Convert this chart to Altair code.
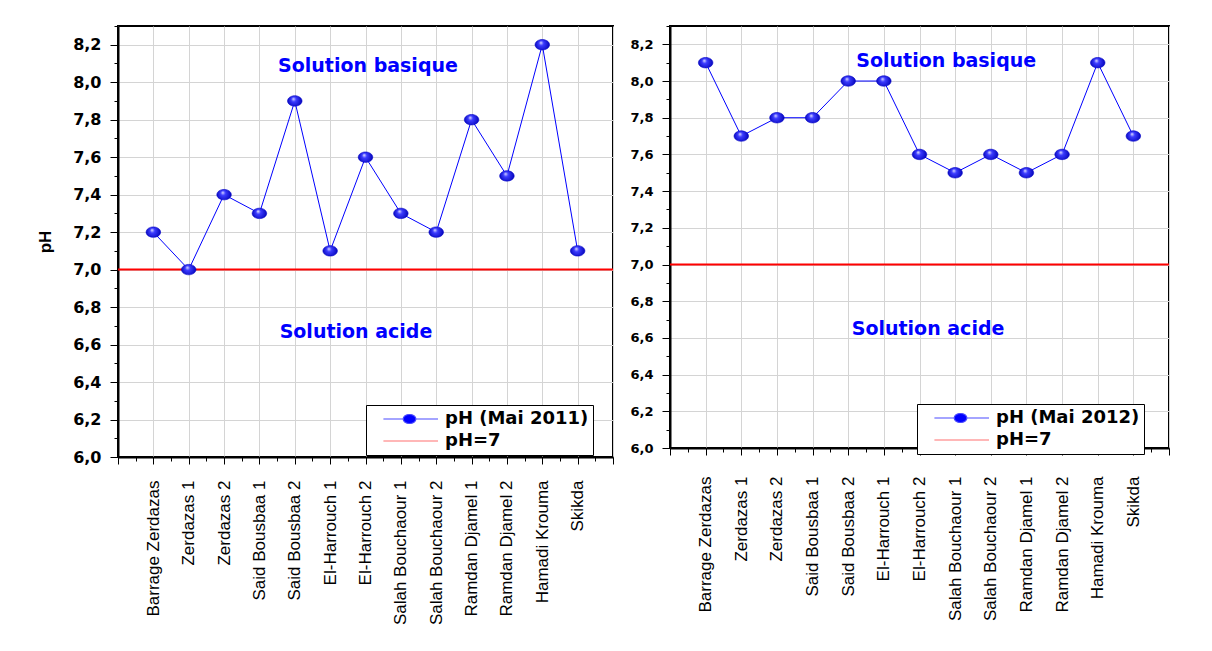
import json
import altair as alt
import pandas as pd

sites = ["Barrage Zerdazas", "Zerdazas 1", "Zerdazas 2", "Said Bousbaa 1", "Said Bousbaa 2",
         "El-Harrouch 1", "El-Harrouch 2", "Salah Bouchaour 1", "Salah Bouchaour 2",
         "Ramdan Djamel 1", "Ramdan Djamel 2", "Hamadi Krouma", "Skikda"]
ph_2011 = [7.2, 7.0, 7.4, 7.3, 7.9, 7.1, 7.6, 7.3, 7.2, 7.8, 7.5, 8.2, 7.1]
ph_2012 = [8.1, 7.7, 7.8, 7.8, 8.0, 8.0, 7.6, 7.5, 7.6, 7.5, 7.6, 8.1, 7.7]
series_2011 = "pH (Mai 2011)"
series_2012 = "pH (Mai 2012)"
ref_label = "pH=7"
ref_value = [7.0]
annotations = ["Solution basique", "Solution acide"]

y_ticks = [round(6.0 + 0.1 * i, 1) for i in range(24)]
x_ticks = [0.5 * i for i in range(29)]

names_js = json.dumps(sites)
x_label_expr = (f"(datum.value % 1 === 0 && datum.value >= 1 && datum.value <= {len(sites)}) "
                f"? {names_js}[datum.value - 1] : ''")
y_major = "round(datum.value * 10) % 2 === 0"
y_label_expr = f"{y_major} ? replace(format(datum.value, '.1f'), '.', ',') : ''"
x_major = "datum.value % 1 === 0"

ELLIPSE = "M-1,0A1,0.72 0 1,0 1,0A1,0.72 0 1,0 -1,0Z"
LEG_SERIES = ("M-0.63,0L-0.04,0M0.34,0L1,0M-0.04,0A0.19,0.135 0 1,0 0.34,0"
              "A0.19,0.135 0 1,0 -0.04,0Z")
LEG_REF = "M-0.63,0L1,0"

sphere = {"gradient": "radial",
          "stops": [{"offset": 0, "color": "#e6e6ff"},
                    {"offset": 0.3, "color": "#3c3cff"},
                    {"offset": 1, "color": "#0000b4"}],
          "x1": 0.4, "y1": 0.35, "r1": 0, "x2": 0.5, "y2": 0.5, "r2": 0.55}


def cond(test, a, b):
    return {"condition": {"test": test, "value": a}, "value": b}


def panel(vals, series, w, h, lab_fs, xlab_pad, title, bas, aci, leg_xy):
    df = pd.DataFrame({"pos": list(range(1, len(sites) + 1)), "site": sites, "ph": vals})
    xs = alt.Scale(domain=[0, len(sites) + 1], nice=False, zero=False)
    ys = alt.Scale(domain=[6.0, 8.3], nice=False, zero=False)
    xaxis = alt.Axis(values=x_ticks, tickCount=1000, labelExpr=x_label_expr, labelAngle=270,
                     labelFontSize=17, labelFont="Liberation Sans", labelColor="black",
                     labelPadding=xlab_pad, tickSize=cond(x_major, 7, 4),
                     gridOpacity=cond(x_major, 1, 0), title=None,
                     labelOverlap=False, labelBound=False, labelFlush=False)
    yargs = dict(values=y_ticks, tickCount=1000, labelExpr=y_label_expr, labelFont="DejaVu Sans",
                 labelFontWeight="bold", labelFontSize=lab_fs, labelColor="black",
                 tickSize=cond(y_major, 8, 4), gridOpacity=cond(y_major, 1, 0),
                 labelPadding=9, labelOverlap=False, labelFlush=False)
    if title:
        yargs.update(title=title, titleFont="Liberation Sans", titleFontSize=17,
                     titleFontWeight="bold", titleColor="black", titlePadding=18)
    else:
        yargs.update(title=None)
    yaxis = alt.Axis(**yargs)

    base = alt.Chart(df)
    line = base.mark_line(color="#0000ff", strokeWidth=1).encode(
        x=alt.X("pos:Q", scale=xs, axis=xaxis), y=alt.Y("ph:Q", scale=ys, axis=yaxis))
    pts = base.mark_point(shape=ELLIPSE, size=210, filled=True, fill=sphere,
                          stroke="#0000c8", strokeWidth=0.6, opacity=1).encode(
        x="pos:Q", y="ph:Q")
    rule = alt.Chart(pd.DataFrame({"ph": ref_value})).mark_rule(
        color="#ff0000", strokeWidth=2).encode(y="ph:Q")

    dom = [series, ref_label]
    legend = alt.Legend(title=None, orient="none", legendX=leg_xy[0], legendY=leg_xy[1],
                        strokeColor="black", fillColor="white", padding=4, rowPadding=2,
                        clipHeight=20, symbolSize=4489, symbolStrokeWidth=1.2,
                        symbolOpacity=1,
                        labelOffset=6, labelFont="DejaVu Sans", labelFontSize=18,
                        labelFontWeight="bold", labelColor="black", cornerRadius=0)
    leg = alt.Chart(pd.DataFrame({"s": [series]})).mark_point(
        filled=True, opacity=0).encode(
        x=alt.datum(1), y=alt.datum(7.0),
        color=alt.Color("s:N", scale=alt.Scale(domain=dom, range=["#0000ff", "#ff0000"]),
                        legend=legend),
        stroke=alt.Stroke("s:N", scale=alt.Scale(domain=dom, range=["#4a4aff", "#ff7070"]),
                          legend=legend),
        shape=alt.Shape("s:N", scale=alt.Scale(domain=dom, range=[LEG_SERIES, LEG_REF]),
                        legend=legend))

    tdf = pd.DataFrame({"t": annotations})
    t1 = alt.Chart(tdf.iloc[[0]]).mark_text(font="DejaVu Sans", fontWeight="bold", fontSize=19,
                                            color="#0000ff", baseline="middle").encode(
        x=alt.datum(bas[0]), y=alt.datum(bas[1]), text="t:N")
    t2 = alt.Chart(tdf.iloc[[1]]).mark_text(font="DejaVu Sans", fontWeight="bold", fontSize=19,
                                            color="#0000ff", baseline="middle").encode(
        x=alt.datum(aci[0]), y=alt.datum(aci[1]), text="t:N")

    return alt.layer(line, rule, pts, leg, t1, t2).properties(width=w, height=h)


left = panel(ph_2011, series_2011, 495, 431, 16, 16, "pH", (7.07, 8.087), (6.73, 6.667), (248, 379))
right = panel(ph_2012, series_2012, 499, 422, 13, 21, None, (7.75, 8.109), (7.24, 6.649), (247, 378))

chart = alt.hconcat(left, right, spacing=6).resolve_scale(
    color="independent", shape="independent", stroke="independent").resolve_legend(
    color="independent", shape="independent", stroke="independent").properties(
    padding={"left": 27, "top": 9, "right": 5, "bottom": 5}, background="white"
).configure_view(stroke="black", strokeWidth=2).configure_axis(
    domainColor="black", domainWidth=2, tickColor="black", tickWidth=1,
    gridColor="#d4d4d4", gridWidth=1)

chart.save("out.html", embed_options={"renderer": "svg", "actions": False})
